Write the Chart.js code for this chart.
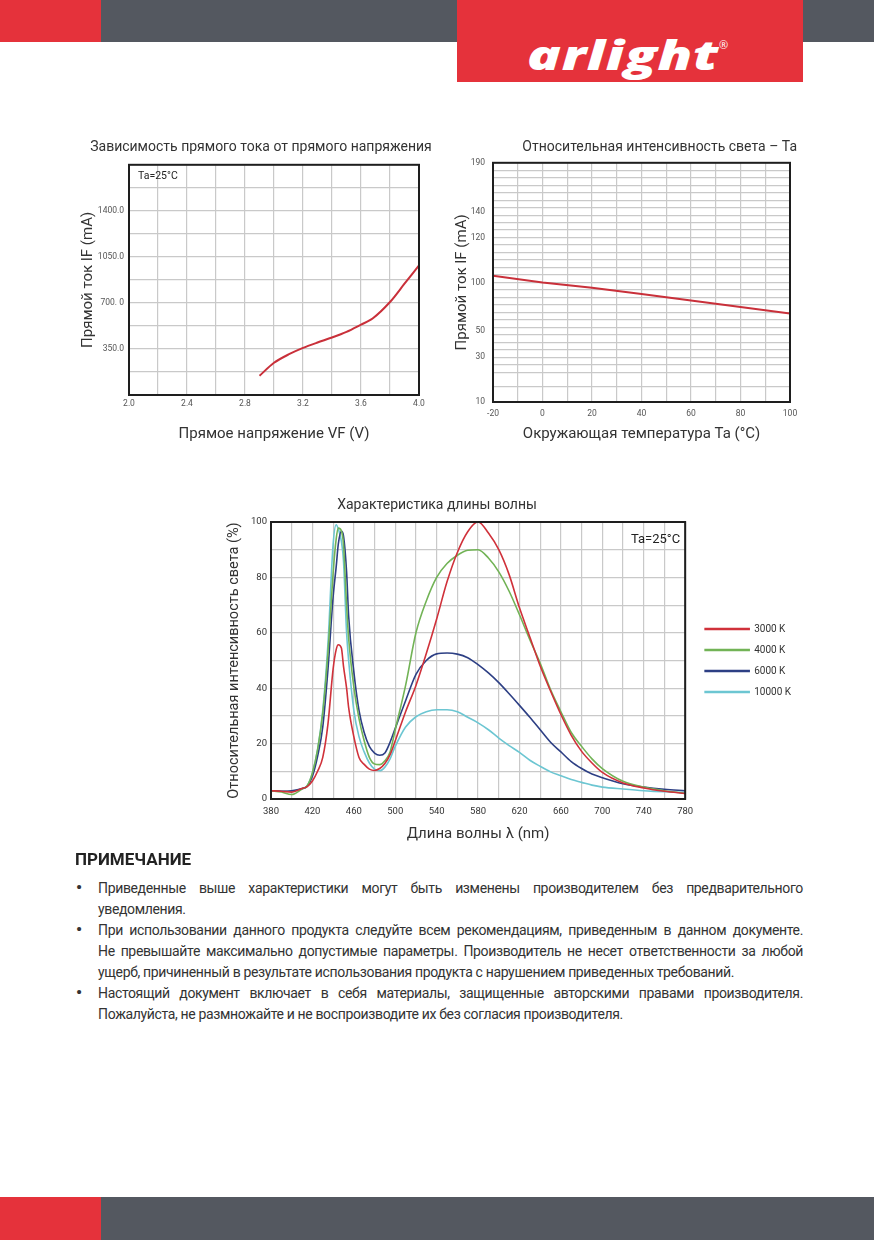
<!DOCTYPE html>
<html>
<head>
<meta charset="utf-8">
<script src="https://cdn.jsdelivr.net/npm/chart.js@4.4.1/dist/chart.umd.min.js"></script>
<style>
html, body { margin: 0; padding: 0; background: #fff; }
body { width: 874px; height: 1240px; position: relative; overflow: hidden; font-family: Roboto, "Open Sans", sans-serif; color: #333; }
.blk { position: absolute; }
.red { background: #e5323b; }
.gray { background: #545860; }
.logo { position: absolute; left: 527px; top: 34px; color: #fff; font-family: "Open Sans", sans-serif; font-weight: 800; font-style: italic; font-size: 40px; letter-spacing: 0.5px; line-height: 42px; transform: scaleX(1.4); transform-origin: left top; }
.reg { position: absolute; left: 719px; top: 37px; color: #fff; font-size: 11px; font-family: "Open Sans", sans-serif; }
canvas { position: absolute; }
.note-h { position: absolute; left: 75px; top: 849px; font-weight: 700; font-size: 17px; color: #222; }
.notes { position: absolute; left: 98px; top: 878px; width: 705px; font-size: 14px; letter-spacing: -0.35px; line-height: 21px; color: #333; }
.notes div { white-space: nowrap; position: relative; }
.notes .j { text-align: justify; text-align-last: justify; }
.bul { position: absolute; left: -22px; top: -1px; font-size: 17px; font-weight: 700; }
</style>
</head>
<body>
<div class="blk red" style="left:0;top:0;width:101px;height:42px"></div>
<div class="blk gray" style="left:101px;top:0;width:773px;height:42px"></div>
<div class="blk red" style="left:457px;top:0;width:346px;height:82px"></div>
<div class="logo">arlight</div>
<div class="reg">®</div>

<canvas id="ivChart" width="392" height="310" style="left:60px;top:139px"></canvas>
<canvas id="taChart" width="370" height="310" style="left:440px;top:139px"></canvas>
<canvas id="specChart" width="737" height="355" style="left:73px;top:497px"></canvas>

<div class="note-h">ПРИМЕЧАНИЕ</div>
<div class="notes">
  <div class="j"><span class="bul">•</span>Приведенные выше характеристики могут быть изменены производителем без предварительного</div>
  <div>уведомления.</div>
  <div class="j"><span class="bul">•</span>При использовании данного продукта следуйте всем рекомендациям, приведенным в данном документе.</div>
  <div class="j">Не превышайте максимально допустимые параметры. Производитель не несет ответственности за любой</div>
  <div>ущерб, причиненный в результате использования продукта с нарушением приведенных требований.</div>
  <div class="j"><span class="bul">•</span>Настоящий документ включает в себя материалы, защищенные авторскими правами производителя.</div>
  <div>Пожалуйста, не размножайте и не воспроизводите их без согласия производителя.</div>
</div>

<div class="blk red" style="left:0;top:1197px;width:101px;height:43px"></div>
<div class="blk gray" style="left:101px;top:1197px;width:773px;height:43px"></div>

<script>
// Forward current vs forward voltage
const vfVoltage = [2.9, 3.0, 3.1, 3.2, 3.3, 3.4, 3.5, 3.6, 3.68, 3.8, 3.9, 4.0];
const vfCurrent = [146, 245, 308, 358, 399, 437, 480, 535, 581, 707, 846, 985];
const ivTickLabels = { 350: '350.0', 700: '700. 0', 1050: '1050.0', 1400: '1400.0' };

// Relative intensity vs ambient temperature
const taTemp = [-20, 0, 20, 40, 60, 80, 100];
const taValue = [103, 100, 94.4, 88, 81.4, 74.6, 68];
// the printed axis is not linear: labelled values and where they sit (in grid rows)
const taAxisValues = [10, 30, 50, 100, 120, 140, 190];
const taAxisRows = [0, 6, 9.5, 16, 22, 25.5, 32];

// Spectrum
const wavelength = [380, 390, 400, 410, 415, 420, 425, 430, 435, 440, 443, 445, 448, 450, 453, 455, 460, 465, 470, 475, 480, 485, 490, 495, 500,
  510, 520, 530, 540, 550, 560, 570, 580, 590, 600, 610, 620, 630, 640, 650, 660, 670, 680, 690, 700, 720, 740, 760, 780];
const spec3000 = [3, 2.8, 2.5, 3.8, 4.5, 6.5, 10, 15, 27, 47, 54, 55.7, 54.5, 48, 40, 33, 22.5, 15, 12.5, 10.8, 10.3, 11, 12.8, 16, 21,
  31.5, 41, 52.5, 65, 78.4, 89, 96.5, 100, 96, 90, 81, 69, 58.5, 48, 39, 30.5, 23, 17.2, 13, 9.6, 5.8, 4, 2.8, 2];
const spec4000 = [3, 2.5, 1.6, 3.6, 4.8, 9.4, 17.8, 31, 52.7, 81.6, 94, 97.8, 96.8, 92, 70, 58, 40.5, 29, 21, 15, 12.6, 12.4, 13.8, 17, 25,
  41, 60, 71.5, 80, 85, 88, 89.8, 90, 87, 82, 75, 66.5, 57.5, 49, 39.5, 31.5, 24, 19, 14.5, 11, 6.4, 4.3, 3, 2];
const spec6000 = [3, 2.8, 3, 3.8, 4.6, 8.2, 15.4, 26, 46.7, 73, 84, 92, 96.6, 95, 82, 66, 46, 32, 24, 19, 16.6, 15.8, 16.6, 20.5, 25.5,
  35.5, 45, 50, 52.4, 52.7, 52.3, 51, 48.5, 45.5, 42, 38, 33.8, 29.5, 25, 20.5, 17, 13.5, 11, 9, 7.7, 5.5, 4.3, 3.5, 3];
const spec10000 = [3, 2.8, 2.8, 3.6, 4.8, 9.4, 17.8, 32, 56, 92, 99, 97.5, 93, 86, 60, 50, 32, 22.5, 17, 13, 10.8, 10.2, 11.5, 14.5, 19,
  26, 29.7, 31.5, 32.2, 32.2, 31.5, 29.5, 27.5, 25, 22, 19.3, 16.8, 14, 11.8, 9.8, 8.4, 7, 6, 5, 4.3, 3.6, 3, 2.6, 2.4];
const specLabels = ['3000 K', '4000 K', '6000 K', '10000 K'];
const specColors = ['#d0313a', '#72b356', '#2d3f84', '#6cc6d2'];

Chart.defaults.font.family = 'Roboto, "Open Sans", sans-serif';
Chart.defaults.color = '#333';
Chart.defaults.animation = false;

// frame around the plot and the "Ta=25°C" note
const framePlugin = {
  id: 'frame',
  afterDraw(chart, args, opts) {
    const { ctx, chartArea: a } = chart;
    ctx.save();
    ctx.strokeStyle = '#1e1e1e';
    ctx.lineWidth = 2;
    ctx.strokeRect(a.left, a.top, a.right - a.left, a.bottom - a.top);
    if (opts.note) {
      ctx.fillStyle = '#222';
      ctx.font = opts.noteSize + 'px Roboto, "Open Sans", sans-serif';
      ctx.textBaseline = 'middle';
      ctx.textAlign = opts.noteAlign;
      const x = opts.noteAlign === 'left' ? a.left + opts.noteDx : a.right - opts.noteDx;
      ctx.fillText(opts.note, x, a.top + opts.noteDy);
    }
    ctx.restore();
  }
};

function setWidth(w) { return (scale) => { scale.width = w; }; }
function setHeight(h) { return (scale) => { scale.height = h; }; }
// empty axis used only to keep room on the right of a plot
function spacer(w) {
  return { type: 'linear', position: 'right', display: true, afterFit: setWidth(w),
    grid: { display: false }, border: { display: false }, ticks: { display: false } };
}

function taToRow(v) {
  for (let i = 1; i < taAxisValues.length; i++) {
    if (v <= taAxisValues[i]) {
      const t = (v - taAxisValues[i - 1]) / (taAxisValues[i] - taAxisValues[i - 1]);
      return taAxisRows[i - 1] + t * (taAxisRows[i] - taAxisRows[i - 1]);
    }
  }
  return taAxisRows[taAxisRows.length - 1];
}

const gridColor = '#c9c9c9';

// chart 1
new Chart(document.getElementById('ivChart'), {
  type: 'line',
  data: {
    datasets: [{
      data: vfVoltage.map((v, i) => ({ x: v, y: vfCurrent[i] })),
      borderColor: '#c9303a',
      borderWidth: 2,
      pointRadius: 0,
      tension: 0.3
    }]
  },
  options: {
    responsive: false,
    layout: { padding: { left: 10, right: 0, top: 0, bottom: 4 } },
    plugins: {
      legend: { display: false },
      tooltip: { enabled: false },
      title: { display: true, text: 'Зависимость прямого тока от прямого напряжения', font: { size: 14, weight: 'normal' }, color: '#333', padding: { top: 0, bottom: 9 } },
      frame: { note: 'Ta=25°C', noteSize: 10.5, noteAlign: 'left', noteDx: 9, noteDy: 12 }
    },
    scales: {
      x: {
        type: 'linear', min: 2, max: 4,
        afterFit: setHeight(50),
        grid: { color: gridColor, lineWidth: 1.2, drawTicks: false },
        border: { display: false },
        ticks: { stepSize: 0.2, padding: 4, color: '#555', font: { size: 8.5 }, autoSkip: false, maxRotation: 0,
          callback: (v) => Math.round(v * 10) % 4 === 0 ? v.toFixed(1) : '' },
        title: { display: true, text: 'Прямое напряжение VF (V)', font: { size: 15 }, color: '#333', padding: { top: 0, bottom: 2 } }
      },
      y: {
        min: 0, max: 1750,
        afterFit: setWidth(59),
        grid: { color: gridColor, lineWidth: 1.2, drawTicks: false },
        border: { display: false },
        ticks: { stepSize: 175, padding: 5, color: '#555', font: { size: 8.5 }, autoSkip: false,
          callback: (v) => ivTickLabels[Math.round(v)] || '' },
        title: { display: true, text: 'Прямой ток IF (mA)', font: { size: 15 }, color: '#333', padding: { top: 9, bottom: 0 } }
      },
      gap: spacer(33)
    }
  },
  plugins: [framePlugin]
});

// chart 2
const taGridRows = [0, 2];
for (let r = 4; r <= 32; r++) taGridRows.push(r);
new Chart(document.getElementById('taChart'), {
  type: 'line',
  data: {
    datasets: [{
      data: taTemp.map((t, i) => ({ x: t, y: taToRow(taValue[i]) })),
      borderColor: '#c9303a',
      borderWidth: 2,
      pointRadius: 0,
      tension: 0
    }]
  },
  options: {
    responsive: false,
    layout: { padding: { left: 10, right: 13, top: 0, bottom: 4 } },
    plugins: {
      legend: { display: false },
      tooltip: { enabled: false },
      title: { display: true, align: 'end', text: 'Относительная интенсивность света – Та', font: { size: 14, weight: 'normal' }, color: '#333', padding: { top: 0, bottom: 7 } },
      frame: {}
    },
    scales: {
      x: {
        type: 'linear', min: -20, max: 100,
        afterFit: setHeight(43),
        grid: { color: gridColor, lineWidth: 1.2, drawTicks: false },
        border: { display: false },
        ticks: { stepSize: 10, padding: 7, color: '#555', font: { size: 8.5 }, autoSkip: false, maxRotation: 0,
          callback: (v) => v % 20 === 0 ? String(v) : '' },
        title: { display: true, text: 'Окружающая температура Ta (°C)', font: { size: 15 }, color: '#333', padding: { top: 0, bottom: 2 } }
      },
      y: {
        min: 0, max: 32,
        afterFit: setWidth(43),
        afterBuildTicks: (scale) => {
          const rows = taGridRows.concat(taAxisRows.filter((r) => !taGridRows.includes(r))).sort((a, b) => a - b);
          scale.ticks = rows.map((r) => ({ value: r }));
        },
        grid: { drawTicks: false, lineWidth: 1.2,
          color: (c) => Number.isInteger(c.tick.value) ? gridColor : 'rgba(0,0,0,0)' },
        border: { display: false },
        ticks: { padding: 8, color: '#555', font: { size: 8.5 }, autoSkip: false,
          callback: (v) => { const k = taAxisRows.indexOf(v); return k >= 0 ? String(taAxisValues[k]) : ''; } },
        title: { display: true, text: 'Прямой ток IF (mA)', font: { size: 15 }, color: '#333', padding: { top: 3, bottom: 0 } }
      },
      gap: spacer(7)
    }
  },
  plugins: [framePlugin]
});

// chart 3
const specSeries = [spec3000, spec4000, spec6000, spec10000];
new Chart(document.getElementById('specChart'), {
  type: 'line',
  data: {
    datasets: specSeries.map((s, k) => ({
      label: specLabels[k],
      data: wavelength.map((w, i) => ({ x: w, y: s[i] })),
      borderColor: specColors[k],
      backgroundColor: specColors[k],
      borderWidth: 1.6,
      pointRadius: 0,
      cubicInterpolationMode: 'monotone'
    }))
  },
  options: {
    responsive: false,
    layout: { padding: { left: 0, right: 9, top: 0, bottom: 0 } },
    plugins: {
      legend: {
        display: true, position: 'right', fullSize: false,
        labels: { boxWidth: 44, boxHeight: 1, padding: 11, color: '#333', font: { size: 10 } }
      },
      tooltip: { enabled: false },
      title: { display: true, text: 'Характеристика длины волны', font: { size: 14, weight: 'normal' }, color: '#333', padding: { top: 0, bottom: 8.2 } },
      frame: { note: 'Ta=25°C', noteSize: 13, noteAlign: 'right', noteDx: 5, noteDy: 18 }
    },
    scales: {
      x: {
        type: 'linear', min: 380, max: 780,
        afterFit: setHeight(53),
        grid: { color: gridColor, lineWidth: 1.2, drawTicks: false },
        border: { display: false },
        ticks: { stepSize: 20, padding: 7, color: '#333', font: { size: 9.5 }, autoSkip: false, maxRotation: 0,
          callback: (v) => (v - 380) % 40 === 0 ? String(v) : '' },
        title: { display: true, text: 'Длина волны λ (nm)', font: { size: 15 }, color: '#333', padding: { top: 0, bottom: 9 } }
      },
      y: {
        min: 0, max: 100,
        afterFit: setWidth(198),
        grid: { color: gridColor, lineWidth: 1.2, drawTicks: false },
        border: { display: false },
        ticks: { stepSize: 10, padding: 4, color: '#333', font: { size: 9.5 }, autoSkip: false,
          callback: (v) => v % 20 === 0 ? String(v) : '' },
        title: { display: true, text: 'Относительная интенсивность света (%)', font: { size: 14.5 }, color: '#333', padding: { top: 153, bottom: 0 } }
      },
      gap: spacer(9)
    }
  },
  plugins: [framePlugin]
});
</script>
</body>
</html>
